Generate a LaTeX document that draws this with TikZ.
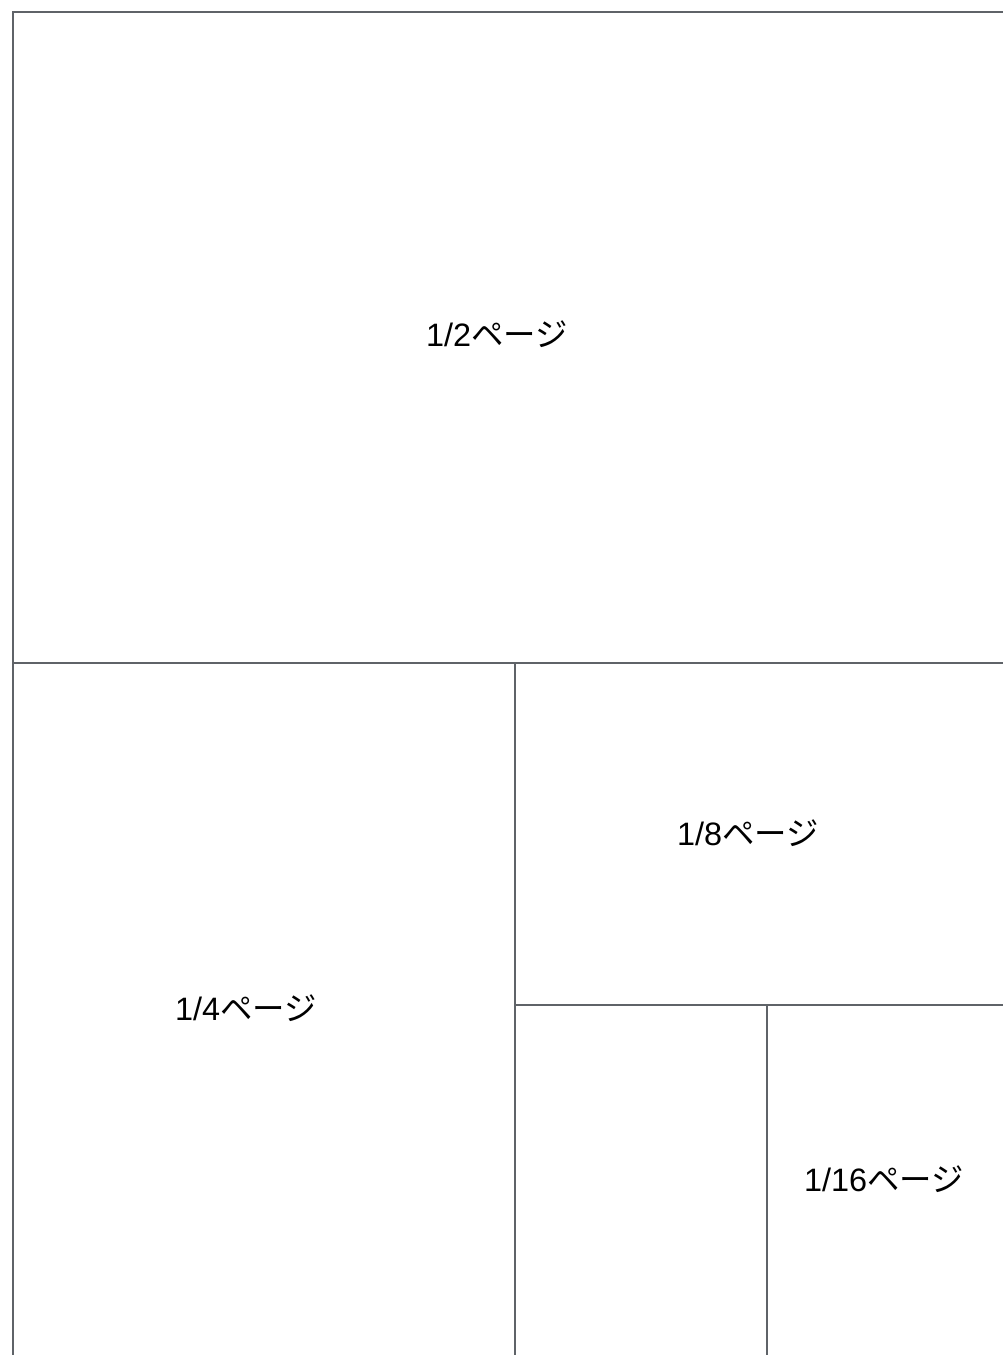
\documentclass[tikz,border=0pt]{standalone}
\usepackage{fontspec}
\setmainfont{Liberation Sans}
\newfontfamily\jpfont{Noto Sans CJK JP}
\usepackage{xcolor}
\definecolor{pagegray}{RGB}{95,99,104}
\newcommand{\pagelabel}[1]{#1{\jpfont ページ}}

\begin{document}
\begin{tikzpicture}[x=0.5pt, y=-0.5pt,
  every node/.style={font=\fontsize{16.2}{19}\selectfont},
  wall/.style={draw=pagegray, line width=1.2pt}]
  \useasboundingbox (0,0) rectangle (1003,1355);

  % outer page and the splits
  \draw[wall] (13,1355) -- (13,12) -- (1003,12);
  \draw[wall] (13,663) -- (1003,663);
  \draw[wall] (515,663) -- (515,1355);
  \draw[wall] (515,1005) -- (1003,1005);
  \draw[wall] (767,1005) -- (767,1355);

  \node (half) at (497,334) {\pagelabel{1/2}};
  \node (quarter) at (246,1008) {\pagelabel{1/4}};
  \node (eighth) at (748,833) {\pagelabel{1/8}};
  \node (sixteenth) at (884,1179) {\pagelabel{1/16}};
\end{tikzpicture}
\end{document}
